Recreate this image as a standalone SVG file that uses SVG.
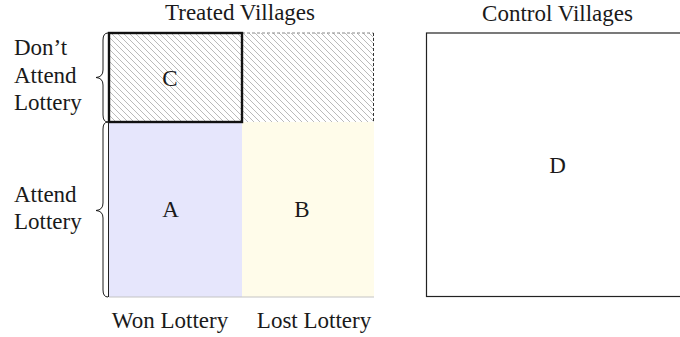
<svg xmlns="http://www.w3.org/2000/svg" width="680" height="337" viewBox="0 0 680 337">
<style>
text{font-family:"Liberation Serif","DejaVu Serif",serif;font-size:23px;fill:#1a1a1a}
.mid{text-anchor:middle}
.brace{fill:none;stroke:#1a1a1a;stroke-width:1}
</style>
<defs>
<pattern id="hatch" patternUnits="userSpaceOnUse" width="6" height="6">
<path d="M-1,-1 L7,7 M-1,5 L1,7 M5,-1 L7,1" stroke="#a8a8a8" stroke-width="0.8"/>
</pattern>
</defs>
<rect width="680" height="337" fill="#fff"/>
<text class="mid" x="240" y="20">Treated Villages</text>
<text class="mid" x="557.5" y="20.5">Control Villages</text>
<g id="cellA">
<rect x="109" y="122" width="133" height="175" fill="#e6e6fc"/>
<text class="mid" x="170.5" y="217">A</text>
</g>
<g id="cellB">
<rect x="242" y="122" width="132" height="175" fill="#fffcea"/>
<text class="mid" x="302" y="217">B</text>
</g>
<line x1="109" y1="297" x2="374" y2="297" stroke="#c4c4c4" stroke-width="1"/>
<g id="cellHatch">
<rect x="242" y="33" width="131.5" height="89" fill="url(#hatch)"/>
<path d="M242,33 H373.5" stroke="#888" stroke-width="1" stroke-dasharray="3,2" fill="none"/>
<path d="M373.5,33 V122" stroke="#333" stroke-width="1" stroke-dasharray="3,2" fill="none"/>
</g>
<g id="cellC">
<rect x="109" y="33" width="133" height="89" fill="url(#hatch)" stroke="#111" stroke-width="2.4"/>
<text class="mid" x="170" y="86">C</text>
</g>
<line x1="108.5" y1="122" x2="108.5" y2="297" stroke="#222" stroke-width="1"/>
<g id="cellD">
<rect x="426.5" y="33" width="260" height="263.5" fill="none" stroke="#222" stroke-width="1.2"/>
<text class="mid" x="557.5" y="172.5">D</text>
</g>
<g id="braces">
<path class="brace" d="M108,33 Q103,33 103,40 L103,70 Q103,77 96,77.5 Q103,78 103,85 L103,115 Q103,122 108,122"/>
<path class="brace" d="M108,122 Q103,122 103,129 L103,203 Q103,210 96,210.5 Q103,211 103,218 L103,290 Q103,297 108,297"/>
</g>
<g id="rowLabels">
<text x="14" y="55">Don’t</text>
<text x="14" y="83">Attend</text>
<text x="14" y="110">Lottery</text>
<text x="14" y="201.5">Attend</text>
<text x="14" y="229">Lottery</text>
</g>
<g id="colLabels">
<text class="mid" x="170" y="328">Won Lottery</text>
<text class="mid" x="314" y="328">Lost Lottery</text>
</g>
</svg>
